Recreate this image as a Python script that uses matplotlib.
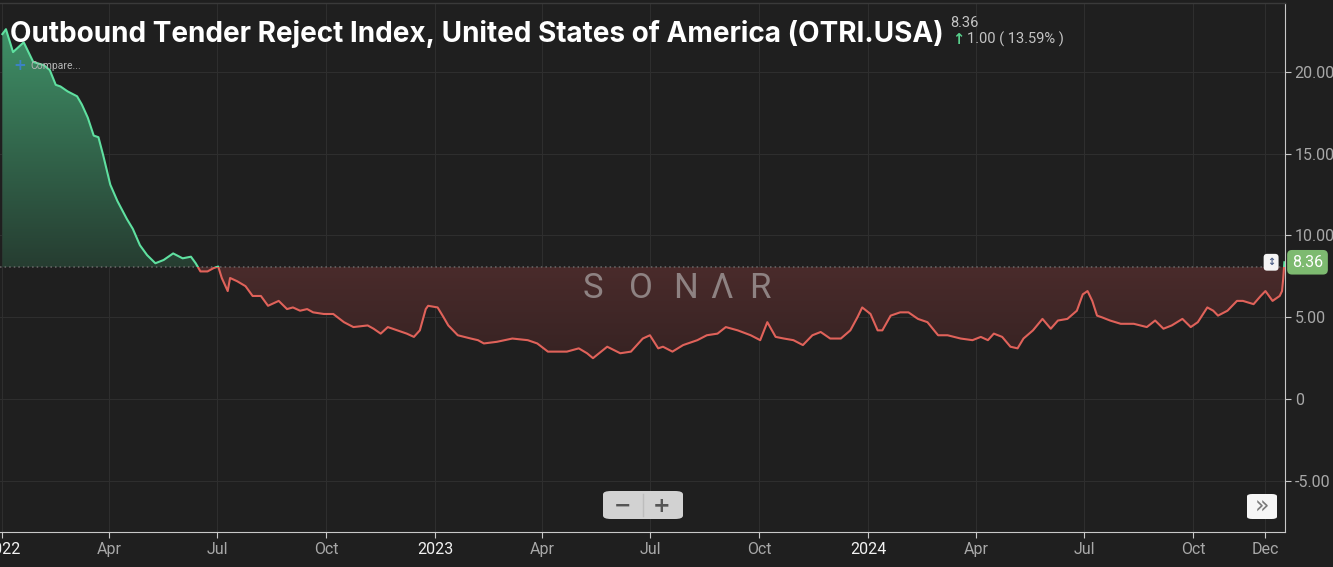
import matplotlib
matplotlib.use("Agg")
import matplotlib.pyplot as plt
import matplotlib.dates as mdates
import numpy as np
import pandas as pd
from matplotlib.colors import LinearSegmentedColormap
from matplotlib.patches import FancyBboxPatch, Rectangle
from matplotlib.path import Path

# OTRI.USA readings
dates = [
    "2022-01-01", "2022-01-04", "2022-01-10", "2022-01-19", "2022-01-27", "2022-02-05",
    "2022-02-10", "2022-02-15", "2022-02-19", "2022-02-25", "2022-03-05", "2022-03-09",
    "2022-03-14", "2022-03-19", "2022-03-23", "2022-03-27", "2022-04-02", "2022-04-08",
    "2022-04-16", "2022-04-21", "2022-04-27", "2022-05-03", "2022-05-10", "2022-05-17",
    "2022-05-25", "2022-06-02", "2022-06-09", "2022-06-13", "2022-06-17", "2022-06-23",
    "2022-06-28", "2022-07-02", "2022-07-05", "2022-07-10", "2022-07-12", "2022-07-18",
    "2022-07-25", "2022-07-31", "2022-08-07", "2022-08-13", "2022-08-22", "2022-08-29",
    "2022-09-03", "2022-09-09", "2022-09-15", "2022-09-20", "2022-09-29", "2022-10-07",
    "2022-10-16", "2022-10-24", "2022-11-05", "2022-11-10", "2022-11-16", "2022-11-22",
    "2022-11-30", "2022-12-08", "2022-12-14", "2022-12-19", "2022-12-24", "2022-12-26",
    "2023-01-03", "2023-01-08", "2023-01-12", "2023-01-20", "2023-01-31", "2023-02-06",
    "2023-02-11", "2023-02-22", "2023-03-07", "2023-03-20", "2023-03-28", "2023-04-06",
    "2023-04-14", "2023-04-22", "2023-05-02", "2023-05-09", "2023-05-14", "2023-05-26",
    "2023-06-06", "2023-06-15", "2023-06-25", "2023-07-01", "2023-07-08", "2023-07-12",
    "2023-07-20", "2023-07-29", "2023-08-10", "2023-08-18", "2023-08-27", "2023-09-03",
    "2023-09-13", "2023-09-24", "2023-10-02", "2023-10-08", "2023-10-15", "2023-10-22",
    "2023-10-30", "2023-11-07", "2023-11-15", "2023-11-22", "2023-11-30", "2023-12-09",
    "2023-12-17", "2023-12-23", "2023-12-27", "2024-01-03", "2024-01-09", "2024-01-13",
    "2024-01-20", "2024-01-28", "2024-02-04", "2024-02-12", "2024-02-20", "2024-02-29",
    "2024-03-08", "2024-03-19", "2024-03-29", "2024-04-05", "2024-04-11", "2024-04-16",
    "2024-04-23", "2024-04-30", "2024-05-06", "2024-05-11", "2024-05-19", "2024-05-27",
    "2024-06-03", "2024-06-09", "2024-06-17", "2024-06-25", "2024-06-30", "2024-07-04",
    "2024-07-08", "2024-07-12", "2024-07-16", "2024-07-23", "2024-08-01", "2024-08-12",
    "2024-08-23", "2024-08-30", "2024-09-06", "2024-09-13", "2024-09-22", "2024-09-29",
    "2024-10-05", "2024-10-13", "2024-10-18", "2024-10-22", "2024-10-30", "2024-11-07",
    "2024-11-12", "2024-11-21", "2024-11-27", "2024-12-01", "2024-12-07", "2024-12-13",
    "2024-12-15", "2024-12-16", "2024-12-17",
]
values = [
    22.3, 22.6, 21.2, 21.8, 20.6, 20.4,
    20.1, 19.2, 19.1, 18.8, 18.5, 18.0,
    17.2, 16.1, 16.0, 14.9, 13.1, 12.1,
    11.0, 10.4, 9.4, 8.8, 8.3, 8.5,
    8.9, 8.6, 8.7, 8.3, 7.8, 7.8,
    8.0, 8.1, 7.4, 6.6, 7.4, 7.2,
    6.9, 6.3, 6.3, 5.7, 6.0, 5.5,
    5.6, 5.4, 5.5, 5.3, 5.2, 5.2,
    4.7, 4.4, 4.5, 4.3, 4.0, 4.4,
    4.2, 4.0, 3.8, 4.2, 5.5, 5.7,
    5.6, 5.0, 4.5, 3.9, 3.7, 3.6,
    3.4, 3.5, 3.7, 3.6, 3.4, 2.9,
    2.9, 2.9, 3.1, 2.8, 2.5, 3.2,
    2.8, 2.9, 3.7, 3.9, 3.1, 3.2,
    2.9, 3.3, 3.6, 3.9, 4.0, 4.4,
    4.2, 3.9, 3.6, 4.7, 3.8, 3.7,
    3.6, 3.3, 3.9, 4.1, 3.7, 3.7,
    4.2, 5.0, 5.6, 5.2, 4.2, 4.2,
    5.1, 5.3, 5.3, 4.9, 4.7, 3.9,
    3.9, 3.7, 3.6, 3.8, 3.6, 4.0,
    3.8, 3.2, 3.1, 3.7, 4.2, 4.9,
    4.3, 4.8, 4.9, 5.4, 6.4, 6.6,
    6.0, 5.1, 5.0, 4.8, 4.6, 4.6,
    4.4, 4.8, 4.3, 4.5, 4.9, 4.4,
    4.7, 5.6, 5.4, 5.1, 5.4, 6.0,
    6.0, 5.8, 6.3, 6.6, 6.0, 6.3,
    6.6, 7.36, 8.36,
]
last_value = 8.36
change = 1.00
change_pct = 13.59
reference_level = 8.07   # dotted level splitting green / red

x_ticks = ["2022-01-01", "2022-04-01", "2022-07-01", "2022-10-01", "2023-01-01",
           "2023-04-01", "2023-07-01", "2023-10-01", "2024-01-01", "2024-04-01",
           "2024-07-01", "2024-10-01", "2024-12-01"]
x_tick_labels = ["2022", "Apr", "Jul", "Oct", "2023", "Apr", "Jul", "Oct",
                 "2024", "Apr", "Jul", "Oct", "Dec"]
y_ticks = [-5, 0, 5, 10, 15, 20]
y_tick_labels = ["-5.00", "0", "5.00", "10.00", "15.00", "20.00"]

BG = "#1f1f1f"
GRID = "#2e2e2e"
GREEN = "#5fe0a0"
RED = "#e0625a"

W, H = 1333, 567
fig = plt.figure(figsize=(W / 100, H / 100), dpi=100, facecolor=BG)
ax = fig.add_axes([0, 35 / H, 1285 / W, (532 - 3) / H], facecolor=BG)

x = mdates.date2num(pd.to_datetime(dates))
y = np.array(values)
x0 = mdates.date2num(pd.Timestamp("2021-12-30"))
x1 = mdates.date2num(pd.Timestamp("2024-12-17 12:00"))
ax.set_xlim(x0, x1)
ax.set_ylim(-8.12, 24.2)

# gradient areas clipped to the fill regions
def gradient_fill(where, c_low, c_high, lo, hi):
    coll = ax.fill_between(x, y, reference_level, where=where, interpolate=True,
                           facecolor="none", edgecolor="none")
    path = Path.make_compound_path(*coll.get_paths())
    cmap = LinearSegmentedColormap.from_list("g", [c_low, c_high])
    im = ax.imshow(np.linspace(0, 1, 256).reshape(-1, 1), cmap=cmap, aspect="auto",
                   origin="lower", extent=[x0, x1, lo, hi], zorder=1,
                   interpolation="bicubic")
    im.set_clip_path(path, ax.transData)

gradient_fill(y >= reference_level, "#263d31", "#3f9067", reference_level, y.max())
gradient_fill(y <= reference_level, "#372323", "#4a2b2b", y.min(), reference_level)

# line, green above the reference level, red below
above = Rectangle((x0, reference_level), x1 - x0, 40, transform=ax.transData)
below = Rectangle((x0, -40), x1 - x0, 40 + reference_level, transform=ax.transData)
lg, = ax.plot(x, y, color=GREEN, lw=1.5, zorder=3)
lr, = ax.plot(x, y, color=RED, lw=1.5, zorder=3)
lg.set_clip_path(above)
lr.set_clip_path(below)

ax.axhline(reference_level, color="#6a6a6a", lw=1.1, linestyle=(0, (1, 2)), zorder=2)

# axes styling
ax.grid(True, color=GRID, lw=0.8)
ax.set_axisbelow(True)
for s in ["left", "top"]:
    ax.spines[s].set_visible(False)
ax.spines["right"].set_color("#c8c8c8")
ax.spines["bottom"].set_color("#c8c8c8")
fig.add_artist(plt.Line2D([0, 1285 / W], [1 - 3 / H, 1 - 3 / H], color="#3a3a3a", lw=1))

ax.yaxis.tick_right()
ax.set_yticks(y_ticks)
ax.set_yticklabels(y_tick_labels)
ax.set_xticks(mdates.date2num(pd.to_datetime(x_ticks)))
ax.set_xticklabels(x_tick_labels)
ax.tick_params(axis="y", colors="#c8c8c8", labelcolor="#a8a8a8", length=4, pad=3,
               labelsize=11.5)
ax.tick_params(axis="x", colors="#c8c8c8", labelcolor="#a8a8a8", length=4, pad=3,
               labelsize=11.5)
for lab in ax.get_yticklabels() + ax.get_xticklabels():
    lab.set_fontfamily("Roboto")
for lab in ax.get_xticklabels():
    if lab.get_text().isdigit():
        lab.set_color("#f2f2f2")

# last value tag
ax.annotate(f"{last_value:.2f}", xy=(1, last_value), xycoords=ax.get_yaxis_transform(),
            xytext=(5, 0), textcoords="offset points", ha="left", va="center",
            color="white", fontsize=11.5, family="Roboto",
            bbox=dict(boxstyle="round,pad=0.3", fc="#7dba70", ec="none"))
ax.annotate("\u2195", xy=(1, last_value), xycoords=ax.get_yaxis_transform(),
            xytext=(-10, 0), textcoords="offset points", ha="center", va="center",
            color="#4c5f86", fontsize=7, fontweight="bold",
            bbox=dict(boxstyle="round,pad=0.35", fc="#f4f4f4", ec="none"))

# titles
fig.text(10 / W, 1 - 34 / H, "Outbound Tender Reject Index, United States of America (OTRI.USA)",
         color="white", fontsize=20.1, fontweight="bold", family="Inter",
         ha="left", va="center")
fig.text(950 / W, 1 - 23 / H, f"{last_value:.2f}", color="#c4c4c4", fontsize=10.5,
         family="Roboto", ha="left", va="center")
fig.text(952 / W, 1 - 39 / H, "\u2191", color="#58d08c", fontsize=10.5,
         fontweight="bold", ha="left", va="center")
fig.text(967 / W, 1 - 39 / H, f"{change:.2f} ( {change_pct:.2f}% )", color="#c4c4c4",
         fontsize=10.5, family="Roboto", ha="left", va="center")
fig.text(13 / W, 1 - 66 / H, "+", color="#3b82c4", fontsize=11, fontweight="bold",
         ha="left", va="center")
fig.text(30 / W, 1 - 66 / H, "Compare...", color="#b4b4b4", fontsize=7.5,
         family="Roboto", ha="left", va="center")

# watermark
for ch, cx in zip("SONΛR", [593, 641, 685, 722, 760]):
    fig.text(cx / W, 1 - 289 / H, ch, color="#8e8282", fontsize=25, family="Roboto",
             ha="center", va="center")

# zoom buttons
fig.add_artist(FancyBboxPatch((603 / W, 1 - 519 / H), 80 / W, 28 / H,
                              boxstyle="round,pad=0,rounding_size=0.006",
                              fc="#d2d2d2", ec="none", transform=fig.transFigure))
fig.add_artist(plt.Line2D([643 / W, 643 / W], [1 - 516 / H, 1 - 494 / H],
                          color="#bdbdbd", lw=1))
fig.text(623 / W, 1 - 506 / H, "\u2212", color="#555555", fontsize=15,
         fontweight="bold", ha="center", va="center")
fig.text(662 / W, 1 - 506 / H, "+", color="#555555", fontsize=15,
         fontweight="bold", ha="center", va="center")
fig.add_artist(FancyBboxPatch((1247 / W, 1 - 519 / H), 30 / W, 25 / H,
                              boxstyle="round,pad=0,rounding_size=0.004",
                              fc="#f6f6f6", ec="none", transform=fig.transFigure))
fig.text(1262 / W, 1 - 507 / H, "\u00bb", color="#7a7a7a", fontsize=17,
         ha="center", va="center")

fig.savefig("out.png", dpi=100, facecolor=BG)
